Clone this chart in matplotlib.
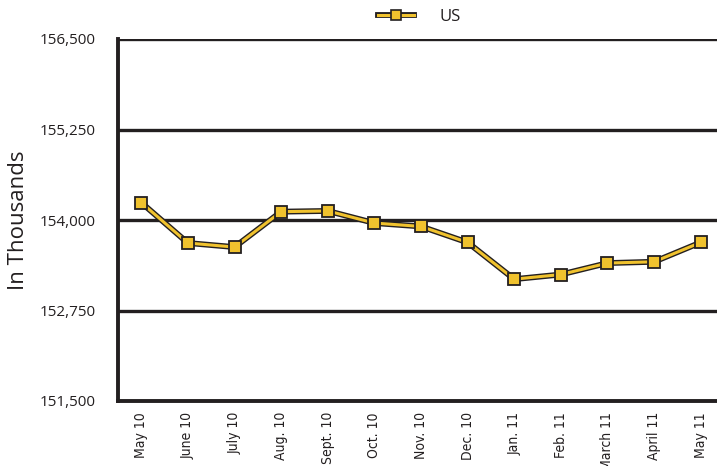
import matplotlib.pyplot as plt
import numpy as np
from matplotlib.lines import Line2D
from matplotlib.legend_handler import HandlerTuple

plt.rcParams["font.family"] = ["Open Sans", "DejaVu Sans"]

# US employment level, in thousands
months = ["May 10", "June 10", "July 10", "Aug. 10", "Sept. 10", "Oct. 10", "Nov. 10",
          "Dec. 10", "Jan. 11", "Feb. 11", "March 11", "April 11", "May 11"]
us_values = [154240, 153682, 153626, 154115, 154125, 153958, 153911,
             153690, 153183, 153247, 153405, 153423, 153690]
y_ticks = [151500, 152750, 154000, 155250, 156500]

DARK = "#231f20"
GOLD = "#f0c22e"

fig = plt.figure(figsize=(7.17, 4.66), dpi=100)
ax = fig.add_axes([118 / 717, 1 - 401 / 466, 606 / 717, 362 / 466])

x = np.arange(len(months))
# dark casing under the gold line
ax.plot(x, us_values, color=DARK, lw=4.2, zorder=3, solid_capstyle="butt")
ax.plot(x, us_values, color=GOLD, lw=2.2, zorder=4, marker="s", markersize=8.5,
        markerfacecolor=GOLD, markeredgecolor=DARK, markeredgewidth=1.3)

ax.set_xlim(-0.5, len(months) - 0.5)
ax.set_ylim(y_ticks[0], y_ticks[-1])
ax.set_yticks(y_ticks)
ax.set_yticklabels([f"{v:,}" for v in y_ticks], fontsize=11, color=DARK)
ax.set_xticks(x)
ax.set_xticklabels(months, rotation=90, fontsize=10, color=DARK,
                   family="DejaVu Sans", fontstretch="condensed")
ax.tick_params(axis="both", length=0)
ax.tick_params(axis="y", pad=16)
ax.tick_params(axis="x", pad=8)

for v in y_ticks[1:]:
    ax.axhline(v, color=DARK, lw=2.4, zorder=1)

for side in ["top", "right"]:
    ax.spines[side].set_visible(False)
for side in ["left", "bottom"]:
    ax.spines[side].set_color(DARK)
    ax.spines[side].set_linewidth(2.8)

ax.set_ylabel("In Thousands", fontsize=16, color=DARK, labelpad=8)

# legend: cased line with a square marker
casing = Line2D([0], [0], color=DARK, lw=4.2)
core = Line2D([0], [0], color=GOLD, lw=2.2, marker="s", markersize=7,
              markerfacecolor=GOLD, markeredgecolor=DARK, markeredgewidth=1.2)
fig.legend([(casing, core)], ["US"], loc="center",
           bbox_to_anchor=(419 / 717, 1 - 17 / 466),
           handler_map={tuple: HandlerTuple(ndivide=1, pad=0)},
           frameon=False, fontsize=12, handlelength=2.2, handletextpad=1.5,
           labelcolor=DARK)

fig.savefig("out.png", dpi=100)
